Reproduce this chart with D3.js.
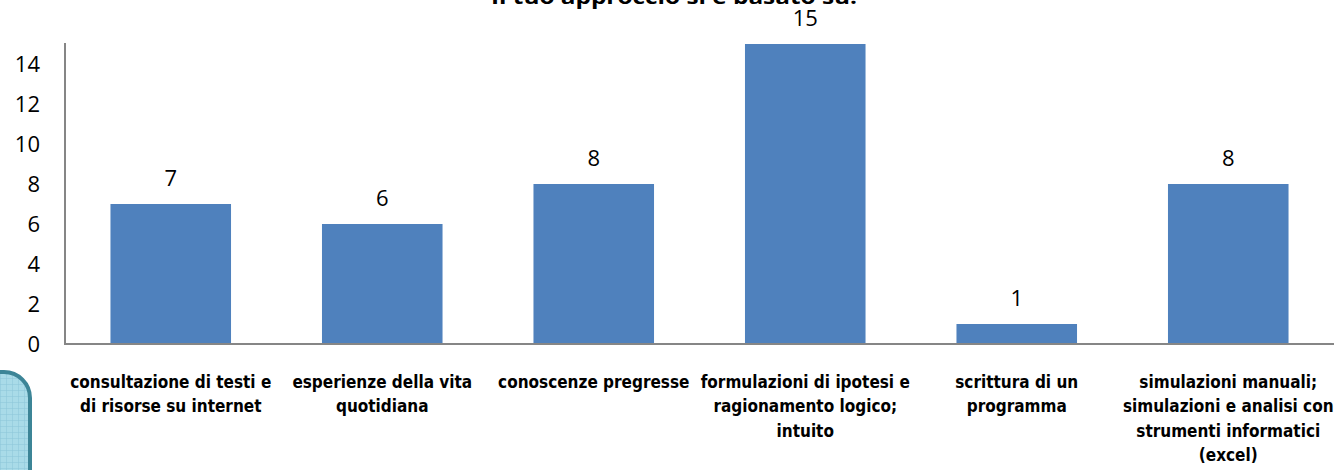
<!DOCTYPE html>
<html><head><meta charset="utf-8">
<script src="https://cdn.jsdelivr.net/npm/d3@7"></script>
<style>body{margin:0;background:#fff;}svg{display:block;}</style>
</head><body>
<svg id="c" width="1334" height="470"></svg>
<script>
const categories = [
  ["consultazione di testi e","di risorse su internet"],
  ["esperienze della vita","quotidiana"],
  ["conoscenze pregresse"],
  ["formulazioni di ipotesi e","ragionamento logico;","intuito"],
  ["scrittura di un","programma"],
  ["simulazioni manuali;","simulazioni e analisi con","strumenti informatici","(excel)"]
];
const values = [7, 6, 8, 15, 1, 8];
const yTicks = [0, 2, 4, 6, 8, 10, 12, 14];
const chartTitle = "Il tuo approccio si è basato su:";

const svg = d3.select("#c");
const mLeft = 65, mRight = 1334, mTop = 44, mBottom = 344;

// decorative shape bottom-left
const defs = svg.append("defs");
const pat = defs.append("pattern").attr("id","grid").attr("width",6).attr("height",6).attr("patternUnits","userSpaceOnUse");
pat.append("rect").attr("width",6).attr("height",6).attr("fill","#a9dbe8");
pat.append("path").attr("d","M0 0H6M0 0V6").attr("stroke","#8cc6d8").attr("stroke-width",1);
svg.append("rect").attr("x",-40).attr("y",372).attr("width",70).attr("height",140).attr("rx",26)
  .attr("fill","url(#grid)").attr("stroke","#3c8597").attr("stroke-width",4);

const x = d3.scaleBand().domain(d3.range(values.length)).range([mLeft, mRight]).paddingInner(0.43).paddingOuter(0.215);
const y = d3.scaleLinear().domain([0, 15]).range([mBottom, mTop]);

svg.append("text").attr("x",674).attr("y",4).attr("text-anchor","middle")
  .attr("font-family","'Open Sans', 'DejaVu Sans', sans-serif").attr("font-weight","bold").attr("font-size",20)
  .attr("textLength",366).attr("lengthAdjust","spacingAndGlyphs").text(chartTitle);

svg.selectAll("rect.bar").data(values).enter().append("rect").attr("class","bar")
  .attr("x",(d,i)=>x(i)).attr("width",x.bandwidth())
  .attr("y",d=>y(d)).attr("height",d=>mBottom-y(d)).attr("fill","#4F81BD");

svg.selectAll("text.val").data(values).enter().append("text").attr("class","val")
  .attr("x",(d,i)=>x(i)+x.bandwidth()/2).attr("y",d=>y(d)-18).attr("text-anchor","middle")
  .attr("font-family","'Open Sans', 'DejaVu Sans', sans-serif").attr("font-size",22).attr("fill","#000").text(d=>d);

const yAxis = d3.axisLeft(y).tickValues(yTicks).tickSize(0).tickPadding(25);
const gy = svg.append("g").attr("transform",`translate(${mLeft},0)`).call(yAxis);
gy.select(".domain").remove();
gy.selectAll("text").attr("font-family","'Open Sans', 'DejaVu Sans', sans-serif").attr("font-size",22).attr("fill","#000");

svg.append("line").attr("x1",mLeft).attr("x2",mLeft).attr("y1",43).attr("y2",mBottom+1).attr("stroke","#868686").attr("stroke-width",2);
svg.append("line").attr("x1",mLeft-1).attr("x2",mRight).attr("y1",mBottom).attr("y2",mBottom).attr("stroke","#868686").attr("stroke-width",2);

const lab = svg.selectAll("text.cat").data(categories).enter().append("text").attr("class","cat")
  .attr("text-anchor","middle").attr("font-family","'DejaVu Sans Condensed', 'DejaVu Sans', sans-serif")
  .attr("font-weight","bold").attr("font-size",17).attr("fill","#000");
lab.each(function(lines,i){
  const t = d3.select(this);
  lines.forEach((l,j)=>{
    t.append("tspan").attr("x",x(i)+x.bandwidth()/2).attr("y",388+j*24.3).text(l);
  });
});
</script>
</body></html>
